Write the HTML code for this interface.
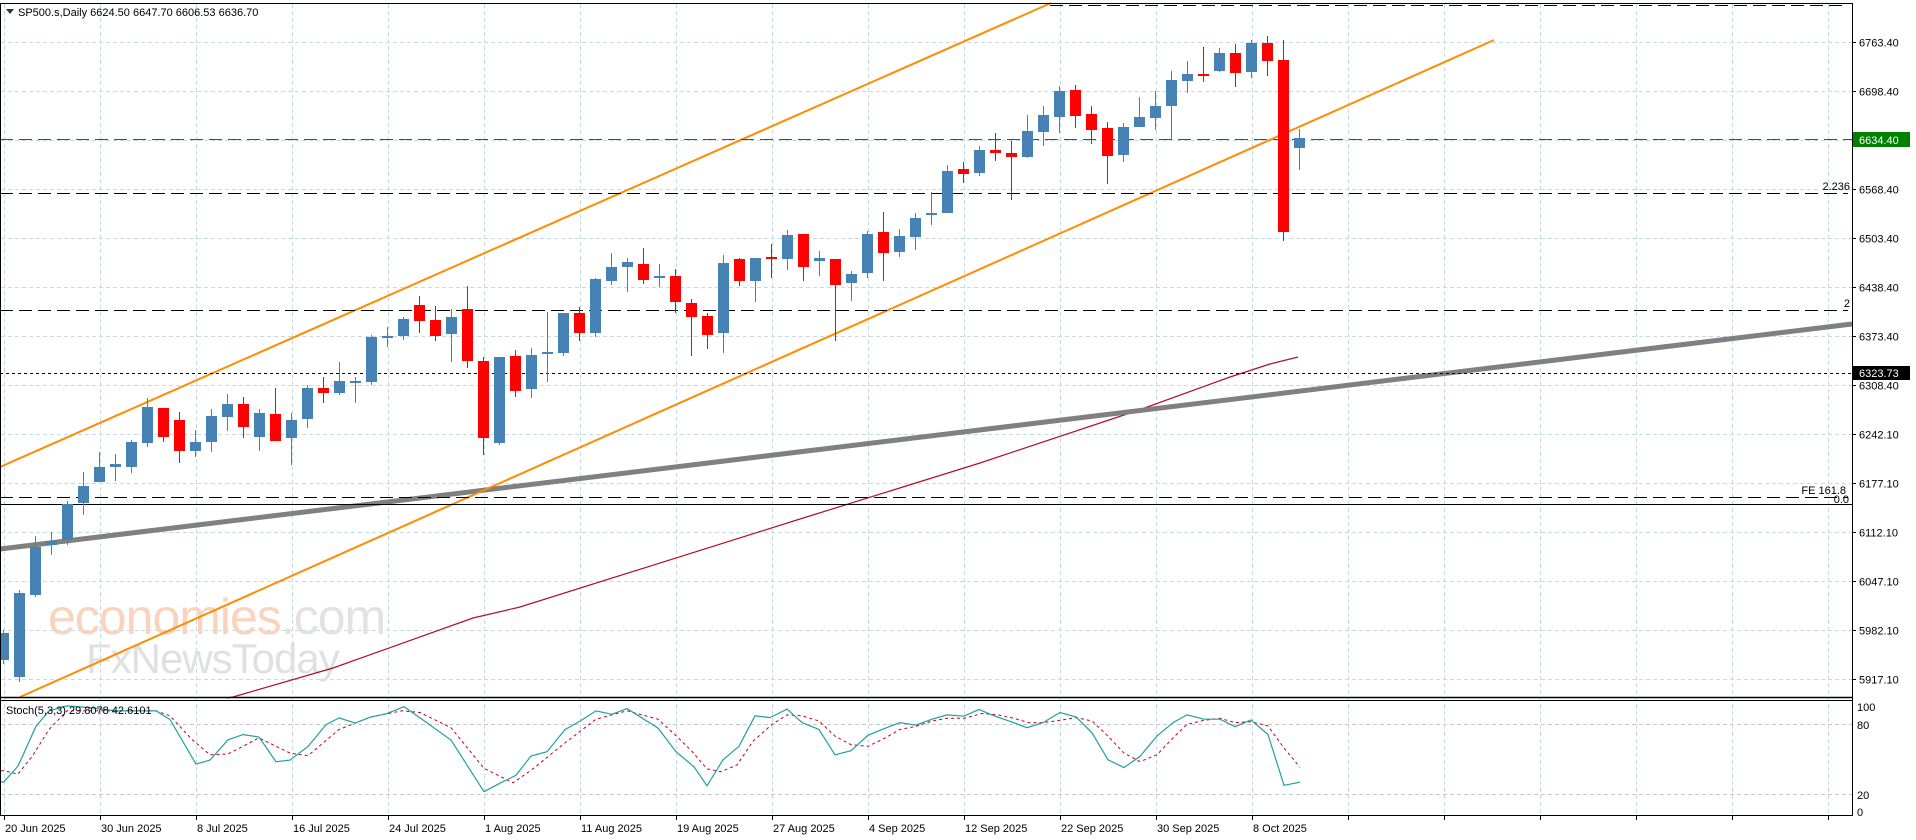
<!DOCTYPE html>
<html><head><meta charset="utf-8"><style>
html,body{margin:0;padding:0;background:#fff}
svg{display:block}
text{font-family:"Liberation Sans",sans-serif;font-size:11px;fill:#000}
</style></head><body>
<svg id="s" width="1916" height="840" viewBox="0 0 1916 840" xmlns="http://www.w3.org/2000/svg">
<rect width="1916" height="840" fill="#fff"/>
<g id="grid"></g>
<!-- watermark -->
<text x="48" y="634" style="font-size:50px;fill:#f9d3bd;letter-spacing:-1px">economies<tspan style="fill:#e2e2e2">.com</tspan></text>
<text x="86" y="673" style="font-size:42px;fill:#e0e0e0;letter-spacing:-1px">FxNewsToday</text>
<!-- MA -->
<polyline fill="none" stroke="#b0102a" stroke-width="1.2" points="227,698 233,697 333,668 473,618 520,607 800,519 980,463 1139,410 1230,377 1270,364 1298,357"/>
<!-- trendline -->
<line x1="0" y1="549" x2="1852" y2="324" stroke="#808080" stroke-width="5"/>
<!-- orange channel -->
<line x1="0" y1="467" x2="1051" y2="3" stroke="#ff8c00" stroke-width="2"/>
<line x1="20" y1="697" x2="1494" y2="40" stroke="#ff8c00" stroke-width="2"/>
<!-- levels -->
<g stroke="#000" stroke-width="1" stroke-dasharray="13,6">
<line x1="1050" y1="5.5" x2="1848" y2="5.5"/>
<line x1="0" y1="193.5" x2="1848" y2="193.5"/>
<line x1="0" y1="310.5" x2="1848" y2="310.5"/>
<line x1="0" y1="497.5" x2="1848" y2="497.5"/>
</g>
<line x1="0" y1="504.5" x2="1852" y2="504.5" stroke="#000" stroke-width="1"/>
<line x1="0" y1="373.5" x2="1852" y2="373.5" stroke="#000" stroke-width="1" stroke-dasharray="3,3"/>
<line x1="0" y1="139.5" x2="1852" y2="139.5" stroke="#008000" stroke-width="1" stroke-dasharray="13,6"/>
<g id="candles"></g>
<text x="1850" y="190" text-anchor="end">2.236</text>
<text x="1850" y="307" text-anchor="end">2</text>
<text x="1846" y="494" text-anchor="end">FE 161.8</text>
<text x="1849" y="503" text-anchor="end">0.0</text>
<!-- frames -->
<g stroke="#000" fill="none">
<line x1="0.5" y1="3" x2="0.5" y2="816"/>
<line x1="0" y1="3.5" x2="1853" y2="3.5"/>
<line x1="1852.5" y1="3" x2="1852.5" y2="816"/>
<line x1="0" y1="697.5" x2="1853" y2="697.5" stroke-width="1.5"/>
<line x1="0" y1="700.5" x2="1853" y2="700.5"/>
<line x1="0" y1="815.5" x2="1853" y2="815.5"/>
</g>
<g id="stoch"></g>
<g id="axis"></g>
<!-- title -->
<polygon points="6,9 14,9 10,14" fill="#333"/>
<text x="18" y="16">SP500.s,Daily  6624.50 6647.70 6606.53 6636.70</text>
<text x="6" y="714">Stoch(5,3,3) 29.8078 42.6101</text>
<rect x="1853" y="132" width="57" height="15" fill="#008000"/>
<text x="1859" y="144" style="fill:#fff">6634.40</text>
</svg>
<script>
var NS="http://www.w3.org/2000/svg";
function el(p,t,a){var e=document.createElementNS(NS,t);for(var k in a)e.setAttribute(k,a[k]);p.appendChild(e);return e;}
var g=document.getElementById('grid');
for(var k=0;k<20;k++){var x=4+96*k+0.5;el(g,'line',{x1:x,y1:4,x2:x,y2:815,stroke:'#c5dbe3','stroke-dasharray':'4,3'});}
var prices=["6763.40","6698.40","6634.40","6568.40","6503.40","6438.40","6373.40","6308.40","6242.10","6177.10","6112.10","6047.10","5982.10","5917.10"];
var ax=document.getElementById('axis');
prices.forEach(function(p,i){var y=Math.round(42.3+i*48.98)+0.5;
 el(g,'line',{x1:1,y1:y,x2:1852,y2:y,stroke:'#c5dbe3','stroke-dasharray':'4,3'});
 el(ax,'line',{x1:1852,y1:y,x2:1856,y2:y,stroke:'#000'});
 if(p!=="6634.40"){var t=el(ax,'text',{x:1859,y:y+4});t.textContent=p;}
});
[724.5,794.5].forEach(function(y){el(g,'line',{x1:1,y1:y,x2:1852,y2:y,stroke:'#c8c8c8','stroke-dasharray':'4,3'});});
[["100",711],["80",729],["20",799],["0",816]].forEach(function(a){var t=el(ax,'text',{x:1857,y:a[1]});t.textContent=a[0];});
var dates=["20 Jun 2025","30 Jun 2025","8 Jul 2025","16 Jul 2025","24 Jul 2025","1 Aug 2025","11 Aug 2025","19 Aug 2025","27 Aug 2025","4 Sep 2025","12 Sep 2025","22 Sep 2025","30 Sep 2025","8 Oct 2025"];
dates.forEach(function(d,k){var x=4+96*k;el(ax,'line',{x1:x+0.5,y1:815,x2:x+0.5,y2:820,stroke:'#000'});var t=el(ax,'text',{x:x+1,y:832});t.textContent=d;});
for(var k=14;k<20;k++){var x=4+96*k;el(ax,'line',{x1:x+0.5,y1:815,x2:x+0.5,y2:820,stroke:'#000'});}
// 6323.73 label
el(ax,'rect',{x:1853,y:366,width:57,height:14,fill:'#000'});
var tt=el(ax,'text',{x:1859,y:377,style:'fill:#fff'});tt.textContent="6323.73";
// candles: [bodyTop, bodyBot, wickTop, wickBot, up?]
var C=[[633,660,630,664,1],[593,677,590,682,1],[547,595,536,597,1],[541,545,532,555,1],[504,540,501,545,1],[486,503,472,515,1],[467,482,452,482,1],[464,467,454,481,1],[442,467,440,473,1],[407,443,398,447,1],
[408,437,408,442,0],[420,451,412,463,0],[442,451,430,457,1],[416,442,409,452,1],[404,417,394,431,1],[404,427,397,438,0],[413,437,409,451,1],[414,441,388,441,0],[420,438,413,465,1],[388,419,385,428,1],
[388,393,377,403,0],[381,393,362,395,1],[381,383,377,403,1],[337,382,335,385,1],[336,338,327,347,1],[319,336,317,340,1],[305,321,296,333,0],[320,336,306,341,0],[317,334,309,362,1],[309,361,286,368,0],
[361,438,357,455,0],[357,443,357,445,1],[356,391,350,397,0],[355,389,348,398,1],[352,354,312,382,1],[313,353,313,356,1],[313,333,307,341,0],[279,333,278,337,1],[267,281,253,285,1],[262,267,258,292,1],
[264,280,248,284,0],[276,278,264,287,1],[276,302,269,313,0],[303,317,299,356,0],[316,335,313,349,0],[263,333,255,353,1],[259,281,258,286,0],[258,281,258,302,1],[257,259,244,278,0],[235,259,230,270,1],
[234,267,234,281,0],[258,261,251,276,1],[259,285,259,341,0],[274,283,271,301,1],[234,273,231,278,1],[232,253,212,281,0],[236,252,229,257,1],[218,237,213,250,1],[213,215,192,225,1],[171,213,165,213,1],
[169,174,162,183,0],[150,173,146,176,1],[150,153,133,161,0],[153,157,141,200,0],[131,157,115,158,1],[115,132,106,146,1],[91,117,86,133,1],[90,116,85,128,0],[114,130,106,144,0],[128,156,122,184,0],
[127,155,123,162,1],[117,127,97,127,1],[106,118,91,130,1],[80,106,71,139,1],[74,81,61,93,1],[74,76,47,82,0],[53,71,48,72,1],[53,73,44,87,0],[43,72,40,78,1],[43,61,36,76,0],
[60,232,40,241,0],[138,148,129,170,1]];
var cg=document.getElementById('candles');
C.forEach(function(c,i){var x=3+16*i;var col=c[4]?'#4682b4':'#ff0000';
 el(cg,'line',{x1:x+0.5,y1:c[2],x2:x+0.5,y2:c[3],stroke:col,'stroke-width':1});
 el(cg,'rect',{x:x-5,y:c[0],width:11,height:Math.max(2,c[1]-c[0]),fill:col});
});
// stoch
function vy(v){return 817-v*1.1667;}
var T=[[1,30],[3.6,30],[18,43.6],[36,77.8],[49,90.9],[67,95.2],[89,93.8],[116,90.9],[156,90.9],[170,83.6],[196,45.3],[210,48.8],[228,66.2],[243,70.6],[259,68.6],[276,47.4],[290,48.8],[308,60.4],[326,79.1],[339,84.9],[355,80.6],[371,85.8],[386,88.4],[404,94.5],[420,84.9],[451,66],[484,21.7],[500,29],[516,35.7],[531,52.3],[547,56],[565,74.9],[580,82.2],[596,90.9],[612,88],[627,92.9],[658,76.2],[676,56],[694,43],[707,26.7],[723,49],[739,60.6],[755,86.7],[770,85.2],[787,92.5],[802,80.9],[819,75],[835,53.3],[851,56.8],[868,70],[884,75.7],[900,80.9],[916,78.8],[932,83.8],[947,87.5],[964,86.4],[979,92.2],[994,86.7],[1011,81.7],[1027,76.5],[1043,80.9],[1060,89.6],[1076,85.8],[1092,72.2],[1108,49],[1124,42.3],[1140,51.9],[1157,69.3],[1173,80.9],[1187,87.5],[1204,83.8],[1220,83.8],[1235,77.4],[1251,83.2],[1268,70.7],[1284,27.2],[1300,29.8]];
var R=[[1,39.7],[3.6,39.7],[18,36.8],[33,53],[49,75],[67,91],[156,91],[170,86.7],[192,66.4],[210,53.3],[228,54],[259,67.8],[290,54.8],[308,52.5],[339,75],[371,85.8],[402,91],[420,89.6],[451,76.5],[484,41.7],[513,29.3],[531,40],[565,63.5],[596,83.8],[627,91],[658,83.8],[680,66.4],[692,56.2],[707,41.2],[721,38.8],[737,44.6],[753,65],[772,79.4],[787,87.5],[802,86.7],[819,82.3],[835,69.3],[851,62],[868,60.6],[884,67.2],[900,75],[916,77.7],[932,82.3],[947,84.6],[964,84.6],[982,88.7],[998,87.5],[1011,85.2],[1029,80.9],[1043,80.9],[1060,82.9],[1076,85.2],[1092,82.3],[1108,69.3],[1124,54.8],[1140,47.5],[1157,53.3],[1173,67.8],[1187,79.4],[1204,82.9],[1220,84.6],[1235,80.9],[1251,81.7],[1268,78],[1284,59.1],[1300,42.6]];
var sg=document.getElementById('stoch');
function pts(a){return a.map(function(p){return p[0]+','+vy(p[1]).toFixed(1);}).join(' ');}
el(sg,'polyline',{points:pts(R),fill:'none',stroke:'#c00020','stroke-width':1,'stroke-dasharray':'3,3'});
el(sg,'polyline',{points:pts(T),fill:'none',stroke:'#20a0a0','stroke-width':1.2});
</script>
</body></html>
